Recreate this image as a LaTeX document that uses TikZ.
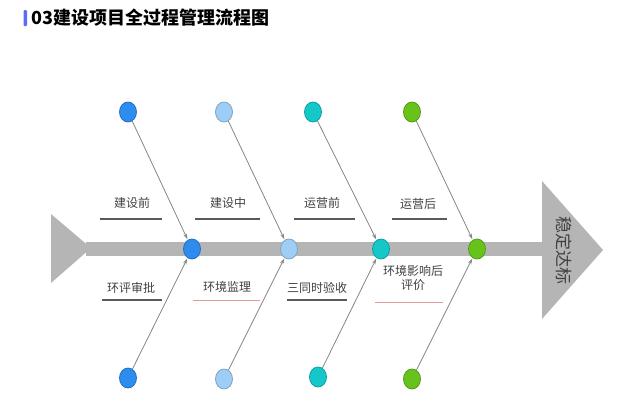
\documentclass[tikz,border=0pt]{standalone}
\usepackage{fontspec}
\newfontfamily\cjk{Noto Sans CJK SC}
\usetikzlibrary{shapes.geometric,arrows.meta}
\definecolor{fishgray}{HTML}{B5B5B5}
\definecolor{txtgray}{HTML}{404040}
\definecolor{ulgray}{HTML}{5A5A5A}
\definecolor{ulpink}{HTML}{E39A9A}
\definecolor{linegray}{HTML}{858585}
\definecolor{cA}{HTML}{2E8CEE}
\definecolor{cB}{HTML}{9ECDF6}
\definecolor{cC}{HTML}{14C7C9}
\definecolor{cD}{HTML}{67C31B}
\definecolor{titlebar}{HTML}{5B6EF0}
\tikzset{
  dot/.style={ellipse, minimum width=17pt, minimum height=20pt, inner sep=0pt, line width=0.8pt},
  lbl/.style={font=\cjk\fontsize{12}{14}\selectfont, text=txtgray, inner sep=0pt, align=center},
  uline/.style={line width=1.4pt},
  bone/.style={draw=linegray, line width=0.8pt, -{Stealth[length=6pt,width=3.5pt]}, shorten >=0.5pt},
}
\begin{document}
\begin{tikzpicture}[x=1pt,y=-1pt]
\useasboundingbox (0,0) rectangle (626,413);
% title
\fill[titlebar, rounded corners=1pt] (23.5,10) rectangle (27,26);
\node[anchor=west, inner sep=0pt, font=\cjk\bfseries\fontsize{18}{20}\selectfont] (title) at (31,18) {03建设项目全过程管理流程图};
% fish body
\fill[fishgray] (51,214) -- (91,248) -- (51,283) -- cycle;
\fill[fishgray] (86,242) rectangle (545,256);
\fill[fishgray] (542,181) -- (603,250) -- (542,319) -- cycle;
\node[rotate=-90, font=\cjk\fontsize{17}{19}\selectfont, text=txtgray, inner sep=0pt] (goal) at (564,250) {稳定达标};
% spine circles
\node[dot, fill=cA, draw=cA!80!black] (s1) at (192,249) {};
\node[dot, fill=cB, draw=cB!80!black] (s2) at (289,249) {};
\node[dot, fill=cC, draw=cC!80!black] (s3) at (381,249) {};
\node[dot, fill=cD, draw=cD!80!black] (s4) at (477,249) {};
% top circles
\node[dot, fill=cA, draw=cA!80!black] (t1) at (128,112) {};
\node[dot, fill=cB, draw=cB!80!black] (t2) at (224,112) {};
\node[dot, fill=cC, draw=cC!80!black] (t3) at (313,112) {};
\node[dot, fill=cD, draw=cD!80!black] (t4) at (412,112) {};
% bottom circles
\node[dot, fill=cA, draw=cA!80!black] (b1) at (128,378) {};
\node[dot, fill=cB, draw=cB!80!black] (b2) at (224,379) {};
\node[dot, fill=cC, draw=cC!80!black] (b3) at (318,377) {};
\node[dot, fill=cD, draw=cD!80!black] (b4) at (412,379) {};
% bones
\foreach \i in {1,2,3,4}{
  \draw[bone] (t\i) -- (s\i);
  \draw[bone] (b\i) -- (s\i);
}
% top labels
\node[lbl] (l1) at (132,203) {建设前};
\node[lbl] (l2) at (228,203) {建设中};
\node[lbl] (l3) at (322,203) {运营前};
\node[lbl] (l4) at (418,204) {运营后};
\draw[uline, ulgray] (100,219) -- (162,219);
\draw[uline, ulgray] (195,219) -- (260,219);
\draw[uline, ulgray] (294,219) -- (355,219);
\draw[uline, ulgray] (392,219) -- (447,219);
% bottom labels
\node[lbl] (m1) at (131,288) {环评审批};
\node[lbl] (m2) at (227,287) {环境监理};
\node[lbl] (m3) at (317,288) {三同时验收};
\node[lbl] (m4) at (413,278) {环境影响后\\评价};
\draw[uline, ulgray] (102,300) -- (162,300);
\draw[uline, ulpink, line width=1pt] (193,300) -- (260,300);
\draw[uline, ulgray] (287,300) -- (347,300);
\draw[uline, ulpink, line width=1pt] (375,302) -- (443,302);
\end{tikzpicture}
\end{document}
